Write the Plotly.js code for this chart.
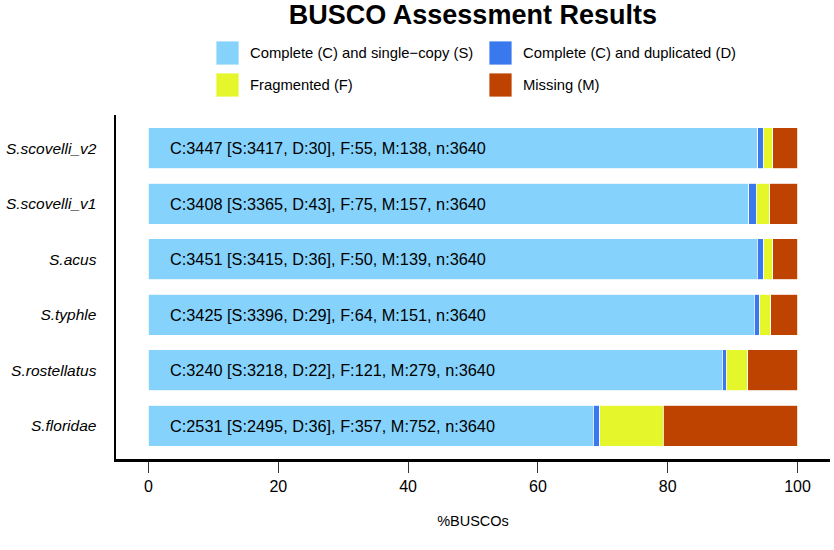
<!DOCTYPE html>
<html>
<head>
<meta charset="utf-8">
<script src="https://cdn.plot.ly/plotly-3.0.1.min.js"></script>
<style>html,body{margin:0;padding:0;background:#fff}#chart{width:834px;height:550px}</style>
</head>
<body>
<div id="chart"></div>
<script>
const species = ["S.scovelli_v2", "S.scovelli_v1", "S.acus", "S.typhle", "S.rostellatus", "S.floridae"];
const single = [3417, 3365, 3415, 3396, 3218, 2495];
const duplicated = [30, 43, 36, 29, 22, 36];
const fragmented = [55, 75, 50, 64, 121, 357];
const missing = [138, 157, 139, 151, 279, 752];
const total = [3640, 3640, 3640, 3640, 3640, 3640];
const seriesNames = ["Complete (C) and single\u2212copy (S)", "Complete (C) and duplicated (D)", "Fragmented (F)", "Missing (M)"];
const seriesColors = ["#85D3FC", "#3A78EE", "#E5F72B", "#BE4200"];
const xTicks = [0, 20, 40, 60, 80, 100];

const FONT = "Liberation Sans, Arial, Helvetica, sans-serif";
const seriesVals = [single, duplicated, fragmented, missing];

const traces = seriesVals.map((vals, i) => ({
  type: "bar",
  orientation: "h",
  y: species,
  x: vals.map((v, j) => v / total[j] * 100),
  name: seriesNames[i],
  marker: { color: seriesColors[i], line: { color: "#ffffff", width: 0.8 } },
  width: 0.74,
  showlegend: false,
  hoverinfo: "skip"
}));

const annotations = species.map((s, j) => ({
  x: 3, y: s, xref: "x", yref: "y",
  xanchor: "left", yanchor: "middle",
  text: "C:" + (single[j] + duplicated[j]) + " [S:" + single[j] + ", D:" + duplicated[j] + "], F:" + fragmented[j] + ", M:" + missing[j] + ", n:" + total[j],
  showarrow: false,
  font: { family: FONT, size: 16.3, color: "#000" }
}));

// manual legend (2 columns x 2 rows)
const W = 714, H = 344, L = 116, T = 115;
const px = x => (x - L) / W;
const py = y => (T + H - y) / H;
const legCols = [216, 489];
const legRows = [53, 85];
const shapes = [];
seriesNames.forEach((nm, i) => {
  const cx = legCols[i % 2], cy = legRows[Math.floor(i / 2)];
  shapes.push({
    type: "rect", xref: "paper", yref: "paper",
    x0: px(cx), x1: px(cx + 23), y0: py(cy + 12), y1: py(cy - 12),
    fillcolor: seriesColors[i], line: { color: "#ffffff", width: 0.8 }
  });
  annotations.push({
    xref: "paper", yref: "paper", x: px(cx + 32), y: py(cy),
    xanchor: "left", yanchor: "middle", showarrow: false,
    text: nm, font: { family: FONT, size: 14.8, color: "#000" }
  });
});

const layout = {
  width: 834, height: 550,
  margin: { l: 116, r: 4, t: 115, b: 91 },
  paper_bgcolor: "#fff", plot_bgcolor: "#fff",
  barmode: "stack",
  bargap: 0.26,
  title: { text: "<b>BUSCO Assessment Results</b>", x: 0.567, xanchor: "center", y: 0.974, yanchor: "middle", font: { family: FONT, size: 27, color: "#000" } },
  xaxis: {
    range: [-5, 105], tickvals: xTicks, ticktext: xTicks.map(String),
    showgrid: false, zeroline: false,
    showline: true, linecolor: "#000", linewidth: 2.5,
    ticks: "outside", ticklen: 11, tickwidth: 1, tickcolor: "#333",
    tickfont: { family: FONT, size: 16, color: "#000" },
    title: { text: "%BUSCOs", font: { family: FONT, size: 14.5, color: "#000" }, standoff: 22 }
  },
  yaxis: {
    type: "category", categoryorder: "array", categoryarray: species,
    range: [5.6, -0.6],
    showgrid: false, zeroline: false,
    showline: true, linecolor: "#000", linewidth: 2.5,
    ticks: "", ticklabelstandoff: 14,
    tickfont: { family: FONT, size: 15.5, color: "#000", style: "italic" }
  },
  shapes: shapes,
  annotations: annotations
};

Plotly.newPlot("chart", traces, layout, { displayModeBar: false, staticPlot: true });
</script>
</body>
</html>
